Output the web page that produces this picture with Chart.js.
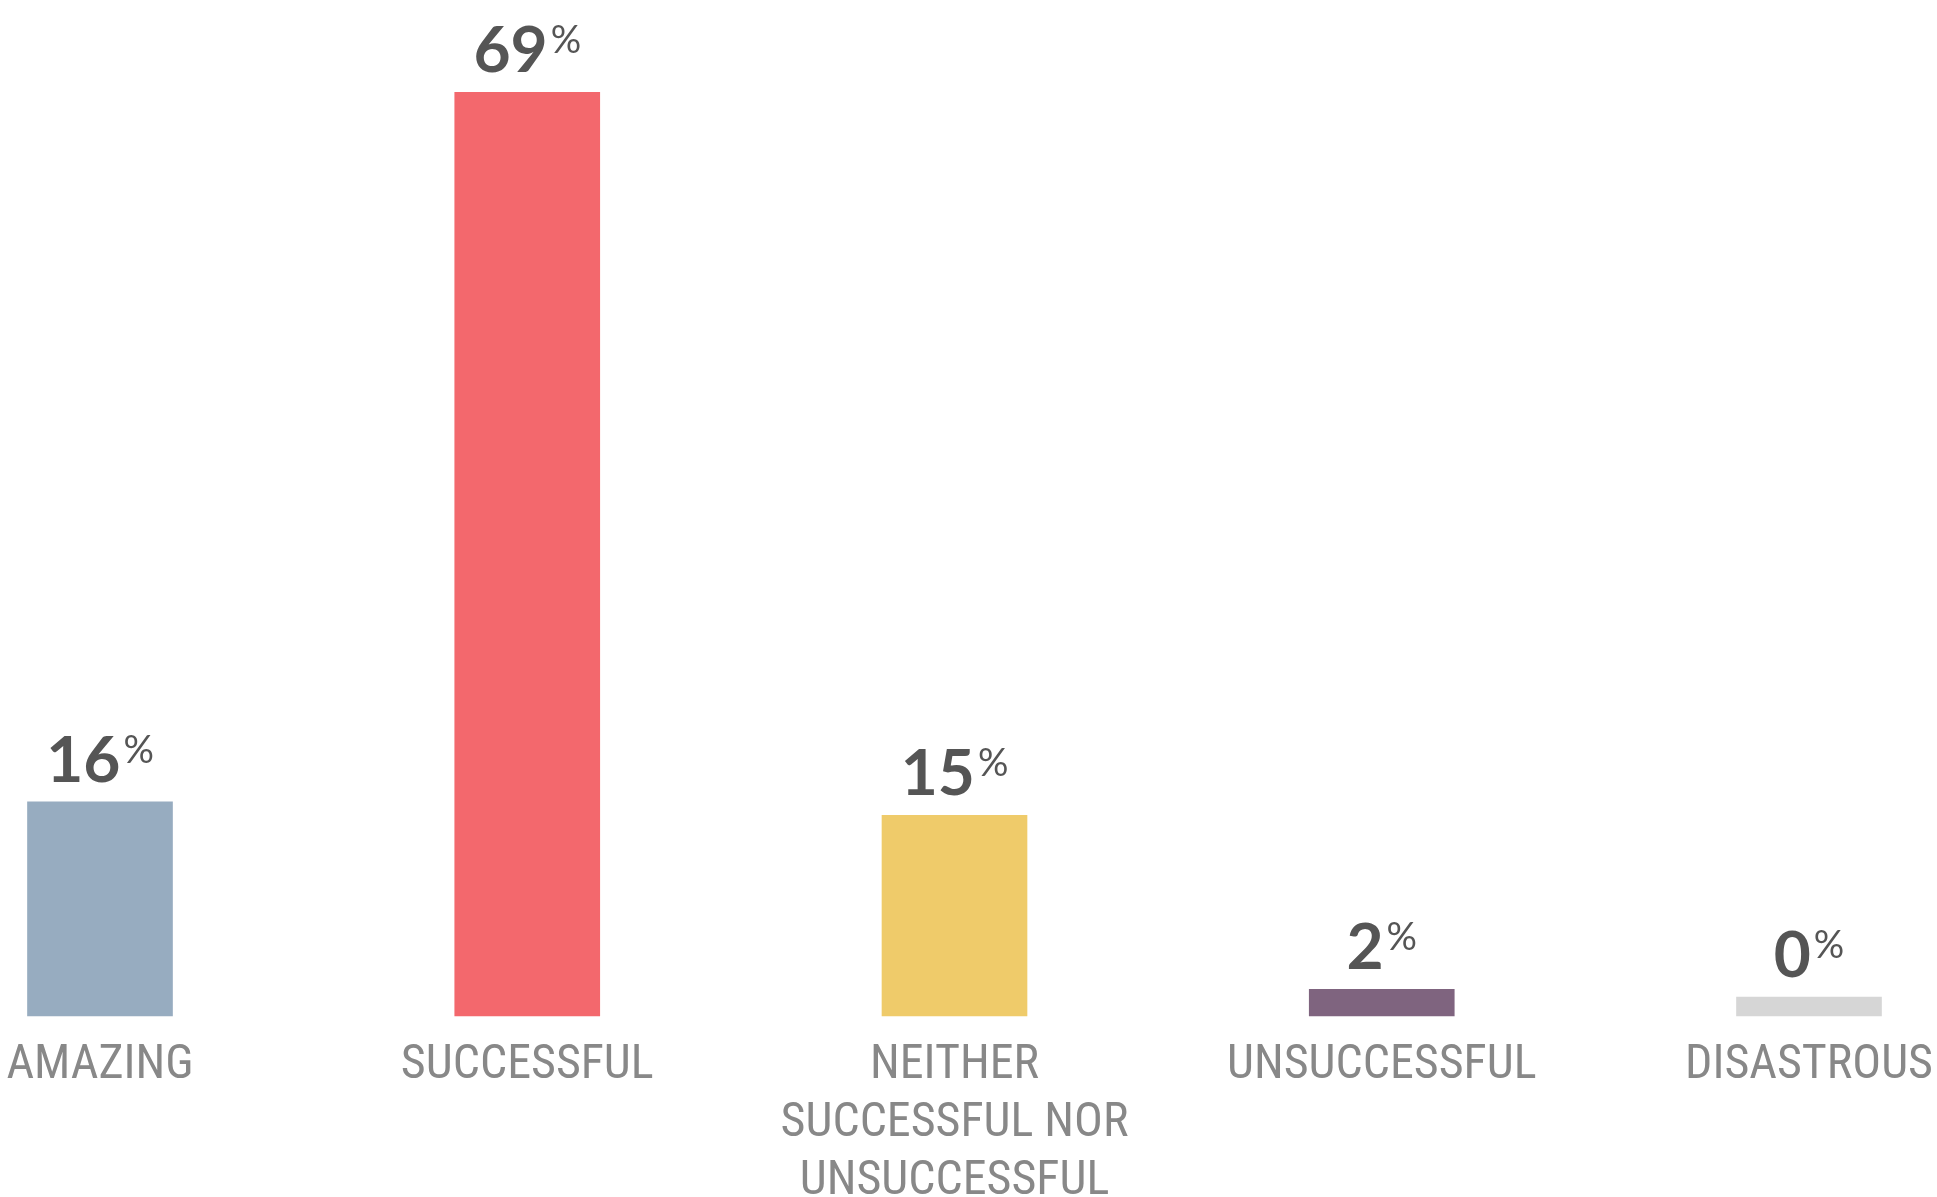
<!DOCTYPE html>
<html>
<head>
<meta charset="utf-8">
<script src="https://cdn.jsdelivr.net/npm/chart.js@4.4.1/dist/chart.umd.min.js"></script>
<style>
  html, body { margin: 0; padding: 0; background: #fff; }
  .chart-container { position: relative; width: 1937px; height: 1197px; }
</style>
</head>
<body>
<div class="chart-container"><canvas id="resultsChart"></canvas></div>
<script>
const categories = [
  "AMAZING",
  "SUCCESSFUL",
  ["NEITHER", "SUCCESSFUL NOR", "UNSUCCESSFUL"],
  "UNSUCCESSFUL",
  "DISASTROUS"
];
const shares = [16, 69, 15, 2, 0];
const barColors = ["#97acc0", "#f3686d", "#efcb6a", "#7f647f", "#d6d6d6"];

// number + small raised percent sign above each bar
const valueLabels = {
  id: "valueLabels",
  afterDatasetsDraw(chart) {
    const ctx = chart.ctx;
    const meta = chart.getDatasetMeta(0);
    ctx.save();
    ctx.fillStyle = "#555555";
    ctx.textBaseline = "alphabetic";
    ctx.textAlign = "left";
    meta.data.forEach((bar, i) => {
      const num = String(shares[i]);
      ctx.font = "bold 64px Lato";
      const numW = ctx.measureText(num).width;
      ctx.font = "38px Lato";
      const pctW = ctx.measureText("%").width;
      const gap = 3;
      const startX = bar.x - (numW + gap + pctW) / 2;
      const baseY = bar.y - 20;
      ctx.font = "bold 64px Lato";
      ctx.fillText(num, startX, baseY);
      ctx.font = "38px Lato";
      ctx.fillText("%", startX + numW + gap, baseY - 19);
    });
    ctx.restore();
  }
};

const ctx = document.getElementById("resultsChart").getContext("2d");
new Chart(ctx, {
  type: "bar",
  data: {
    labels: categories,
    datasets: [
      {
        data: shares,
        backgroundColor: barColors,
        barThickness: 145,
        minBarLength: 19,
        clip: false
      }
    ]
  },
  options: {
    responsive: true,
    maintainAspectRatio: false,
    animation: false,
    layout: { padding: { top: 79, left: 100, right: 128, bottom: 0 } },
    plugins: { legend: { display: false }, tooltip: { enabled: false } },
    scales: {
      x: {
        offset: false,
        // tick marks are hidden, their length only pushes the labels down
        grid: { display: false, drawTicks: true, tickLength: 21 },
        border: { display: false },
        ticks: {
          color: "#888888",
          padding: 0,
          maxRotation: 0,
          autoSkip: false,
          font: { family: "'Roboto Condensed', Roboto", size: 48, lineHeight: 1.21 }
        },
        afterFit(scale) { scale.height = 181; }
      },
      y: { display: false, min: 0, max: 70 }
    }
  },
  plugins: [valueLabels]
});
</script>
</body>
</html>
